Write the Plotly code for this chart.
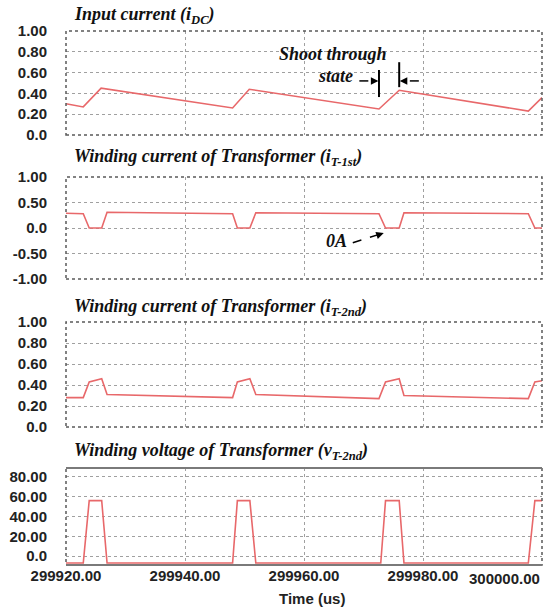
import plotly.graph_objects as go
from plotly.subplots import make_subplots

# ---------------- data ----------------
t_idc = [299920.0, 299922.9, 299925.9, 299948.0, 299950.8, 299972.6, 299976.0, 299997.7, 300000.0]
i_dc = [0.30, 0.27, 0.45, 0.26, 0.44, 0.25, 0.43, 0.23, 0.36]

t_t1 = [299920.0, 299922.9, 299923.9, 299926.0, 299926.9, 299948.0, 299948.8, 299950.9,
        299951.9, 299972.6, 299973.7, 299976.0, 299976.8, 299997.7, 299998.8, 300000.0]
i_t1 = [0.29, 0.28, 0.0, 0.0, 0.31, 0.28, 0.0, 0.0,
        0.30, 0.28, 0.0, 0.0, 0.30, 0.28, 0.0, 0.0]

t_t2 = [299920.0, 299922.9, 299923.9, 299926.0, 299926.9, 299948.0, 299948.8, 299950.9,
        299951.9, 299972.6, 299973.7, 299976.0, 299976.8, 299997.7, 299998.8, 300000.0]
i_t2 = [0.28, 0.28, 0.43, 0.46, 0.31, 0.28, 0.43, 0.46,
        0.31, 0.27, 0.43, 0.46, 0.30, 0.27, 0.43, 0.44]

t_v = [299920.0, 299922.9, 299923.9, 299926.0, 299926.9, 299948.0, 299948.8, 299950.9,
       299951.9, 299972.9, 299973.7, 299976.0, 299976.8, 299997.7, 299998.8, 300000.0]
v_t2 = [-7, -7, 56, 56, -7, -7, 56, 56,
        -7, -7, 56, 56, -7, -7, 56, 56]

x_tickvals = [299920, 299940, 299960, 299980]
x_ticktext = ["299920.00", "299940.00", "299960.00", "299980.00"]
x_last_tick = 300000
x_last_text = "300000.00"

y1_vals = [0, 0.2, 0.4, 0.6, 0.8, 1.0]
y1_text = ["0.0", "0.20", "0.40", "0.60", "0.80", "1.00"]
y2_vals = [-1.0, -0.5, 0, 0.5, 1.0]
y2_text = ["-1.00", "-0.50", "0.0", "0.50", "1.00"]
y3_vals = [0, 0.2, 0.4, 0.6, 0.8, 1.0]
y3_text = ["0.0", "0.20", "0.40", "0.60", "0.80", "1.00"]
y4_vals = [0, 20, 40, 60, 80]
y4_text = ["0.0", "20.00", "40.00", "60.00", "80.00"]

titles = [
    "Input current (i<sub>DC</sub>)",
    "Winding current of Transformer (i<sub>T-1st</sub>)",
    "Winding current of Transformer (i<sub>T-2nd</sub>)",
    "Winding voltage of Transformer (v<sub>T-2nd</sub>)",
]

# ---------------- figure ----------------
W, H = 544, 608
LINE = "#e8686a"
fig = make_subplots(rows=4, cols=1)

series = [(t_idc, i_dc), (t_t1, i_t1), (t_t2, i_t2), (t_v, v_t2)]
for k, (tx, ty) in enumerate(series, start=1):
    fig.add_trace(go.Scatter(x=tx, y=ty, mode="lines",
                             line=dict(color=LINE, width=1.6),
                             showlegend=False, hoverinfo="skip"),
                  row=k, col=1)

# pixel layout of plot areas (top, bottom)
panels = [(31, 135), (177, 279), (322, 427), (468, 565)]
x_dom = [66 / W, 542 / W]
yranges = [[0, 1], [-1, 1], [0, 1], [-9, 89]]
yticks = [(y1_vals, y1_text), (y2_vals, y2_text), (y3_vals, y3_text), (y4_vals, y4_text)]

tickfont = dict(family="Liberation Sans, Arial, sans-serif", size=15, color="#222222")
for k in range(4):
    top, bot = panels[k]
    xa = "xaxis" if k == 0 else f"xaxis{k+1}"
    ya = "yaxis" if k == 0 else f"yaxis{k+1}"
    fig.layout[xa].update(
        domain=x_dom, range=[299920, 300000], tickvals=x_tickvals,
        ticktext=["<b>" + s + "</b>" for s in x_ticktext],
        showticklabels=(k == 3), showgrid=True, gridcolor="#a0a0a0", griddash="dot",
        gridwidth=1, zeroline=False, showline=False, ticks="",
        tickfont=tickfont, automargin=False, fixedrange=True)
    fig.layout[ya].update(
        domain=[1 - bot / H, 1 - top / H], range=yranges[k],
        tickvals=yticks[k][0], ticktext=["<b>" + s + "</b>" for s in yticks[k][1]],
        showgrid=True, gridcolor="#a0a0a0", griddash="dot", gridwidth=1,
        zeroline=False, showline=False, ticks="outside", ticklen=15,
        tickcolor="rgba(0,0,0,0)", tickfont=tickfont, automargin=False, fixedrange=True)
    xr = "x" if k == 0 else f"x{k+1}"
    yr = "y" if k == 0 else f"y{k+1}"
    fig.add_shape(type="rect", xref=f"{xr} domain", yref=f"{yr} domain",
                  x0=0, x1=1, y0=0, y1=1,
                  line=dict(color="#5a5a5a", width=1.5, dash="dot"), layer="above")

# solid top / bottom edges of the voltage panel
for yy in (0, 1):
    fig.add_shape(type="line", xref="x4 domain", yref="y4 domain", x0=0, x1=1, y0=yy, y1=yy,
                  line=dict(color="#7a7a7a", width=2), layer="above")

serif = dict(family="Liberation Serif, Times New Roman, serif", size=18, color="#111111")

annots = []
title_y = [15, 157, 307, 451]
for k in range(4):
    annots.append(dict(text="<b><i>" + titles[k] + "</i></b>", xref="paper", yref="paper",
                       x=72 / W, y=1 - title_y[k] / H, xanchor="left", yanchor="middle",
                       showarrow=False, font=serif))

# last x tick label (kept inside the page)
annots.append(dict(text="<b>" + x_last_text + "</b>", xref="x4", yref="paper",
                   x=x_last_tick, y=1 - 578 / H, xanchor="right", yanchor="middle",
                   showarrow=False, font=tickfont))
annots.append(dict(text="<b>Time (us)</b>", xref="paper", yref="paper",
                   x=312 / W, y=1 - 598 / H, xanchor="center", yanchor="middle",
                   showarrow=False, font=tickfont))

annots.append(dict(text="<b><i>Shoot through</i></b>", xref="x", yref="y",
                   x=299964.8, y=0.78, showarrow=False, font=serif))
annots.append(dict(text="<b><i>state</i></b>", xref="x", yref="y",
                   x=299965.3, y=0.565, showarrow=False, font=serif))
annots.append(dict(text="<b><i>0A</i></b>", xref="x2", yref="y2",
                   x=299965.4, y=-0.25, showarrow=False, font=serif))

# shoot-through markers
fig.add_shape(type="line", xref="x", yref="y", x0=299972.6, x1=299972.6, y0=0.365, y1=0.625,
              line=dict(color="black", width=2))
fig.add_shape(type="line", xref="x", yref="y", x0=299976.0, x1=299976.0, y0=0.46, y1=0.70,
              line=dict(color="black", width=2))
fig.add_shape(type="line", xref="x", yref="y", x0=299969.3, x1=299971.8, y0=0.52, y1=0.52,
              line=dict(color="black", width=1.5, dash="dash"))
fig.add_shape(type="line", xref="x", yref="y", x0=299979.3, x1=299976.8, y0=0.52, y1=0.52,
              line=dict(color="black", width=1.5, dash="dash"))
annots.append(dict(text="", xref="x", yref="y", x=299972.5, y=0.52, ax=-6, ay=0,
                   showarrow=True, arrowhead=2, arrowsize=1, arrowwidth=1.5, arrowcolor="black"))
annots.append(dict(text="", xref="x", yref="y", x=299976.1, y=0.52, ax=6, ay=0,
                   showarrow=True, arrowhead=2, arrowsize=1, arrowwidth=1.5, arrowcolor="black"))
# 0A arrow
fig.add_shape(type="line", xref="x2", yref="y2", x0=299968.2, x1=299972.5, y0=-0.29, y1=-0.13,
              line=dict(color="black", width=1.5, dash="dash"))
annots.append(dict(text="", xref="x2", yref="y2", x=299973.4, y=-0.10, ax=-6, ay=2,
                   showarrow=True, arrowhead=2, arrowsize=1, arrowwidth=1.5, arrowcolor="black"))

fig.update_layout(annotations=annots, width=W, height=H,
                  margin=dict(l=0, r=0, t=0, b=0),
                  paper_bgcolor="white", plot_bgcolor="white",
                  font=dict(family="Liberation Sans, Arial, sans-serif"))

fig.write_html("out.html", config={"displayModeBar": False},
               post_script="document.body.style.margin='0';document.body.style.overflow='hidden';")
